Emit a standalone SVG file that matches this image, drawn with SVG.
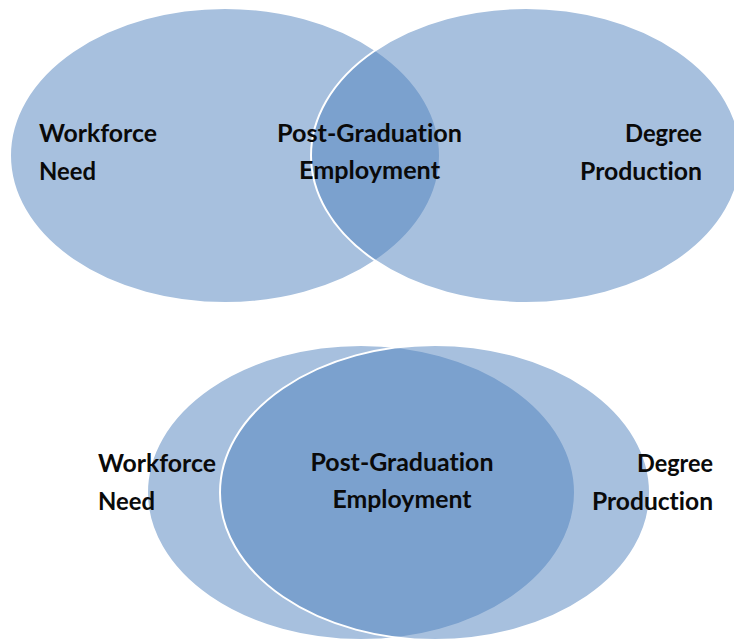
<svg xmlns="http://www.w3.org/2000/svg" width="734" height="641" viewBox="0 0 734 641">
  <style>
    .set { fill: #4F81BD; fill-opacity: 0.5; stroke: #FFFFFF; stroke-width: 2; }
    .label { font-family: Lato, "Open Sans", "Liberation Sans", sans-serif; font-weight: bold; font-size: 25.5px; fill: #0a0a0a; font-variant-ligatures: none; font-feature-settings: "liga" 0; }
    .start { text-anchor: start; }
    .mid { text-anchor: middle; }
    .end { text-anchor: end; }
  </style>
  <rect width="734" height="641" fill="#FFFFFF"/>

  <!-- Upper Venn: partial overlap -->
  <g id="top-workforce-need">
    <ellipse class="set" cx="225" cy="155.5" rx="215" ry="147.5"/>
    <text class="label start" x="39" y="142" textLength="118" lengthAdjust="spacingAndGlyphs">Workforce</text>
    <text class="label start" x="39" y="180" textLength="57" lengthAdjust="spacingAndGlyphs">Need</text>
  </g>
  <g id="top-degree-production">
    <ellipse class="set" cx="526" cy="155.5" rx="215" ry="147.5"/>
    <text class="label end" x="702" y="142" textLength="77" lengthAdjust="spacingAndGlyphs">Degree</text>
    <text class="label end" x="702" y="180" textLength="122" lengthAdjust="spacingAndGlyphs">Production</text>
  </g>
  <g id="top-post-graduation-employment">
    <text class="label mid" x="369.5" y="142" textLength="185" lengthAdjust="spacingAndGlyphs">Post-Graduation</text>
    <text class="label mid" x="369.5" y="179" textLength="141" lengthAdjust="spacingAndGlyphs">Employment</text>
  </g>

  <!-- Lower Venn: large overlap -->
  <g id="bottom-workforce-need">
    <ellipse class="set" cx="361" cy="492.5" rx="214" ry="147.5"/>
    <text class="label start" x="98" y="472" textLength="118" lengthAdjust="spacingAndGlyphs">Workforce</text>
    <text class="label start" x="98" y="510" textLength="57" lengthAdjust="spacingAndGlyphs">Need</text>
  </g>
  <g id="bottom-degree-production">
    <ellipse class="set" cx="435" cy="492.5" rx="215" ry="147.5"/>
    <text class="label end" x="713" y="472" textLength="76" lengthAdjust="spacingAndGlyphs">Degree</text>
    <text class="label end" x="713" y="510" textLength="121" lengthAdjust="spacingAndGlyphs">Production</text>
  </g>
  <g id="bottom-post-graduation-employment">
    <text class="label mid" x="402" y="471" textLength="183" lengthAdjust="spacingAndGlyphs">Post-Graduation</text>
    <text class="label mid" x="402" y="508" textLength="139" lengthAdjust="spacingAndGlyphs">Employment</text>
  </g>

  <!-- no connectors in this figure -->
  <g id="connectors"/>
</svg>
